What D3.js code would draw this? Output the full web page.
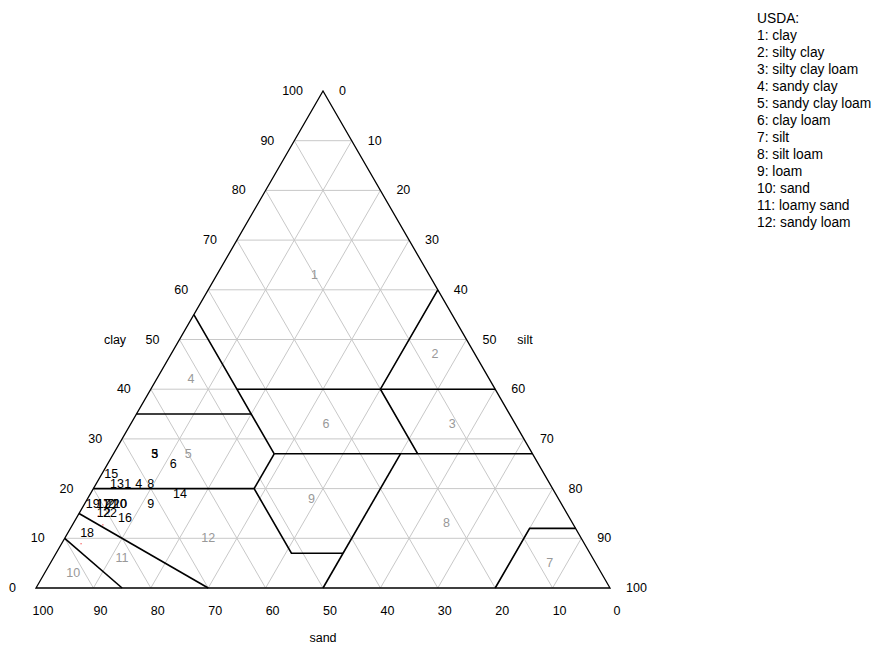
<!DOCTYPE html>
<html>
<head>
<meta charset="utf-8">
<script src="https://cdn.jsdelivr.net/npm/d3@7"></script>
<style>
  body { margin: 0; background: #fff; }
  svg text { font-family: "Liberation Sans", Arial, Helvetica, sans-serif; }
</style>
</head>
<body>
<svg id="chart" width="872" height="646"></svg>
<script>
// Tick values shared by the three axes (percent)
const tickValues = [0, 10, 20, 30, 40, 50, 60, 70, 80, 90, 100];
const gridValues = [10, 20, 30, 40, 50, 60, 70, 80, 90];

// Labelled samples (percent clay / silt / sand)
const sampleIds  = ["1", "2", "3", "4", "5", "6", "7", "8", "9", "10", "11",
                    "12", "13", "14", "15", "16", "17", "18", "19", "20", "21", "22"];
const sampleClay = [21, 17, 27, 21, 27, 25, 17, 21, 17, 17, 17,
                    15, 21, 19, 23, 14, 17, 11, 17, 17, 17, 15];
const sampleSilt = [5.5, 4.6, 7.2, 7.4, 7.2, 11.4, 4.4, 9.5, 11.5, 6.2, 3.2,
                    4.3, 3.6, 15.6, 1.6, 8.5, 3.2, 3.4, 1.4, 6.1, 4.6, 5.4];
const sampleSand = sampleClay.map((c, i) => 100 - c - sampleSilt[i]);

// Unlabelled extra samples
const extraClay = [14.5, 12.7, 8.9];
const extraSilt = [3.6, 5.3, 3.4];

// USDA class legend and the position of each class number inside the triangle
const classNames = ["clay", "silty clay", "silty clay loam", "sandy clay", "sandy clay loam",
                    "clay loam", "silt", "silt loam", "loam", "sand", "loamy sand", "sandy loam"];
const classLabelClay = [63, 47, 33, 42, 27, 33, 5, 13, 18, 3, 6, 10];
const classLabelSilt = [17, 46, 56, 6, 13, 34, 87, 65, 39, 5, 12, 25];

// USDA class boundaries, each a polyline of [clay, silt] pairs
const classBoundaries = [
  [[40, 15], [40, 60]],
  [[27, 28], [27, 73]],
  [[55, 0], [40, 15], [27, 28]],
  [[35, 0], [35, 20]],
  [[60, 40], [40, 40], [27, 53]],
  [[20, 0], [20, 28], [7, 41], [7, 50]],
  [[27, 28], [20, 28]],
  [[27, 50], [0, 50]],
  [[0, 80], [12, 80], [12, 88]],
  [[15, 0], [0, 30]],
  [[10, 0], [0, 15]]
];

const svg = d3.select("#chart");

// Barycentric placement: horizontal runs with silt + clay/2, vertical with clay
const xScale = d3.scaleLinear().domain([0, 100]).range([36, 610]);
const yScale = d3.scaleLinear().domain([0, 100]).range([588, 91]);
const pt = (clay, silt) => [xScale(silt + clay / 2), yScale(clay)];
const line = d3.line();

const gridColor = "#c8c8c8";

// Grid lines for each component
const grid = svg.append("g").attr("stroke", gridColor).attr("stroke-width", 1).attr("fill", "none");
gridValues.forEach(v => {
  grid.append("path").attr("d", line([pt(v, 0), pt(v, 100 - v)]));       // constant clay
  grid.append("path").attr("d", line([pt(0, v), pt(100 - v, v)]));       // constant silt
  grid.append("path").attr("d", line([pt(0, 100 - v), pt(100 - v, 0)])); // constant sand
});

// Class boundary lines
const bounds = svg.append("g").attr("stroke", "#000").attr("stroke-width", 1.6).attr("fill", "none");
classBoundaries.forEach(b => bounds.append("path").attr("d", line(b.map(d => pt(d[0], d[1])))));

// Triangle frame
svg.append("path")
  .attr("d", line([pt(0, 0), pt(0, 100), pt(100, 0)]) + "Z")
  .attr("fill", "none").attr("stroke", "#000").attr("stroke-width", 1.3);

// Class numbers
svg.append("g").selectAll("text").data(classNames).join("text")
  .attr("x", (d, i) => pt(classLabelClay[i], classLabelSilt[i])[0])
  .attr("y", (d, i) => pt(classLabelClay[i], classLabelSilt[i])[1])
  .attr("text-anchor", "middle").attr("dominant-baseline", "central")
  .attr("font-size", 12.5).attr("fill", "#999")
  .text((d, i) => i + 1);

// Tick labels
const tickFont = 12.5;
svg.append("g").selectAll("text").data(tickValues).join("text")
  .attr("x", v => pt(v, 0)[0] - 20).attr("y", v => pt(v, 0)[1])
  .attr("text-anchor", "end").attr("dominant-baseline", "central")
  .attr("font-size", tickFont).text(v => v);
svg.append("g").selectAll("text").data(tickValues).join("text")
  .attr("x", v => pt(100 - v, v)[0] + 16).attr("y", v => pt(100 - v, v)[1])
  .attr("text-anchor", "start").attr("dominant-baseline", "central")
  .attr("font-size", tickFont).text(v => v);
svg.append("g").selectAll("text").data(tickValues).join("text")
  .attr("x", v => pt(0, 100 - v)[0] + 7).attr("y", v => pt(0, 100 - v)[1] + 23)
  .attr("text-anchor", "middle").attr("dominant-baseline", "central")
  .attr("font-size", tickFont).text(v => v);

// Axis titles
const titles = [
  { t: "clay", x: 115, y: yScale(50) },
  { t: "silt", x: 525, y: yScale(50) },
  { t: "sand", x: xScale(50), y: 638 }
];
svg.append("g").selectAll("text").data(titles).join("text")
  .attr("x", d => d.x).attr("y", d => d.y)
  .attr("text-anchor", "middle").attr("dominant-baseline", "central")
  .attr("font-size", tickFont).text(d => d.t);

// Extra samples as small red dots
svg.append("g").selectAll("rect").data(extraClay).join("rect")
  .attr("x", (c, i) => pt(c, extraSilt[i])[0] - 0.5)
  .attr("y", (c, i) => pt(c, extraSilt[i])[1] - 0.5)
  .attr("width", 1).attr("height", 1).attr("fill", "#e00");

// Sample labels drawn at each sample position
svg.append("g").selectAll("text").data(sampleIds).join("text")
  .attr("x", (d, i) => pt(sampleClay[i], sampleSilt[i])[0])
  .attr("y", (d, i) => pt(sampleClay[i], sampleSilt[i])[1])
  .attr("text-anchor", "middle").attr("dominant-baseline", "central")
  .attr("font-size", 12.5).attr("fill", "#000")
  .text(d => d);

// Legend
const legend = svg.append("g").attr("font-size", 13.8);
legend.append("text").attr("x", 757).attr("y", 18).attr("dominant-baseline", "central").text("USDA:");
legend.selectAll("text.item").data(classNames).join("text").attr("class", "item")
  .attr("x", 757).attr("y", (d, i) => 35 + i * 17)
  .attr("dominant-baseline", "central")
  .text((d, i) => `${i + 1}: ${d}`);
</script>
</body>
</html>
